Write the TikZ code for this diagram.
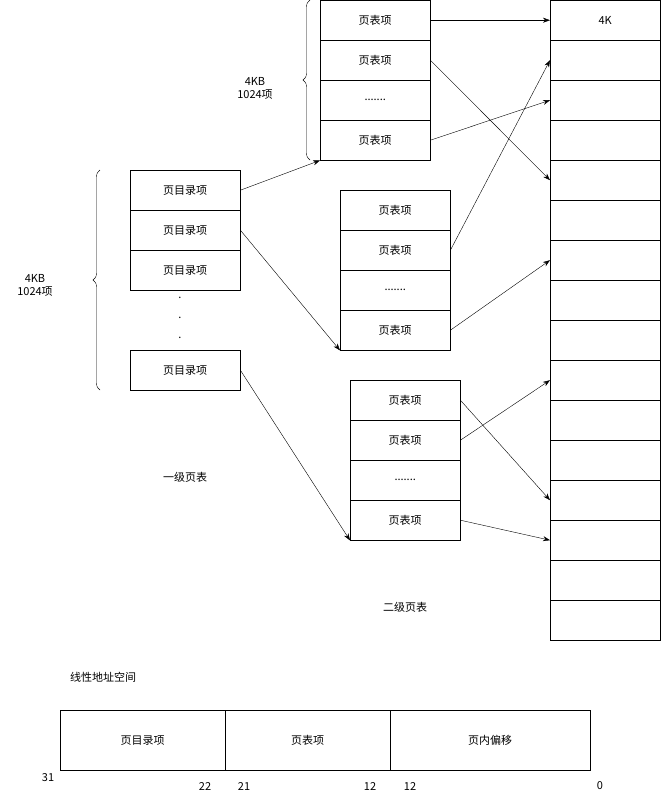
\documentclass[tikz,border=0pt]{standalone}
\usepackage{fontspec}
\setmainfont{Noto Sans CJK SC}
\usetikzlibrary{arrows.meta,decorations.pathreplacing}
\begin{document}
\begin{tikzpicture}[x=1pt,y=-1pt,font=\fontsize{11}{13}\selectfont,
  cell/.style={draw,minimum width=110pt,minimum height=40pt,inner sep=0pt,anchor=north west},
  mcell/.style={draw,minimum width=110pt,minimum height=40pt,inner sep=0pt,anchor=north west},
  dot/.style={inner sep=0pt},
  arr/.style={-{Stealth[length=7pt,width=5pt]}},
  br/.style={decorate,decoration={brace,amplitude=7pt}}]
\useasboundingbox (0,0) rectangle (661,801);
% top page table
\node[cell] (a1) at (320,0) {页表项};
\node[cell] (a2) at (320,40) {页表项};
\node[cell] (a3) at (320,80) {.......};
\node[cell] (a4) at (320,120) {页表项};
\draw[br] (310,160) -- (310,0);
\node[align=center] (la) at (255,88) {4KB\\1024项};
% directory
\node[cell] (d1) at (130,170) {页目录项};
\node[cell] (d2) at (130,210) {页目录项};
\node[cell] (d3) at (130,250) {页目录项};
\node[cell] (d4) at (130,350) {页目录项};
\node[dot] (p1) at (180,298) {.};
\node[dot] (p2) at (180,318) {.};
\node[dot] (p3) at (180,338) {.};
\draw[br] (100,390) -- (100,170);
\node[align=center] (ld) at (35,285) {4KB\\1024项};
% second table
\node[cell] (b1) at (340,190) {页表项};
\node[cell] (b2) at (340,230) {页表项};
\node[cell] (b3) at (340,270) {.......};
\node[cell] (b4) at (340,310) {页表项};
% third table
\node[cell] (c1) at (350,380) {页表项};
\node[cell] (c2) at (350,420) {页表项};
\node[cell] (c3) at (350,460) {.......};
\node[cell] (c4) at (350,500) {页表项};
% memory
\foreach \i in {1,...,16}{
  \node[mcell] (m\i) at (550,{(\i-1)*40}) {};
}
\node at (m1) {4K};
\node (t1) at (185,477) {一级页表};
\node (t2) at (405,607) {二级页表};
\node (t3) at (103,677) {线性地址空间};
% address
\node[draw,minimum width=165pt,minimum height=60pt,inner sep=0pt,anchor=north west] (f1) at (60,710) {页目录项};
\node[draw,minimum width=165pt,minimum height=60pt,inner sep=0pt,anchor=north west] (f2) at (225,710) {页表项};
\node[draw,minimum width=200pt,minimum height=60pt,inner sep=0pt,anchor=north west] (f3) at (390,710) {页内偏移};
\node (n31) at (48,778) {31};
\node (n22) at (205,786) {22};
\node (n21) at (244,786) {21};
\node (n12a) at (370,786) {12};
\node (n12b) at (410,786) {12};
\node (n0) at (600,786) {0};
% arrows
\draw[arr] (d1.east) -- (a4.south west);
\draw[arr] (d2.east) -- (b4.south west);
\draw[arr] (d4.east) -- (c4.south west);
\draw[arr] (a1.east) -- (m1.west);
\draw[arr] (a2.east) -- (m5.west);
\draw[arr] (a4.east) -- (m3.west);
\draw[arr] (b2.east) -- (m2.west);
\draw[arr] (b4.east) -- (m7.west);
\draw[arr] (c1.east) -- (m13.west);
\draw[arr] (c2.east) -- (m10.west);
\draw[arr] (c4.east) -- (m14.west);
\end{tikzpicture}
\end{document}
